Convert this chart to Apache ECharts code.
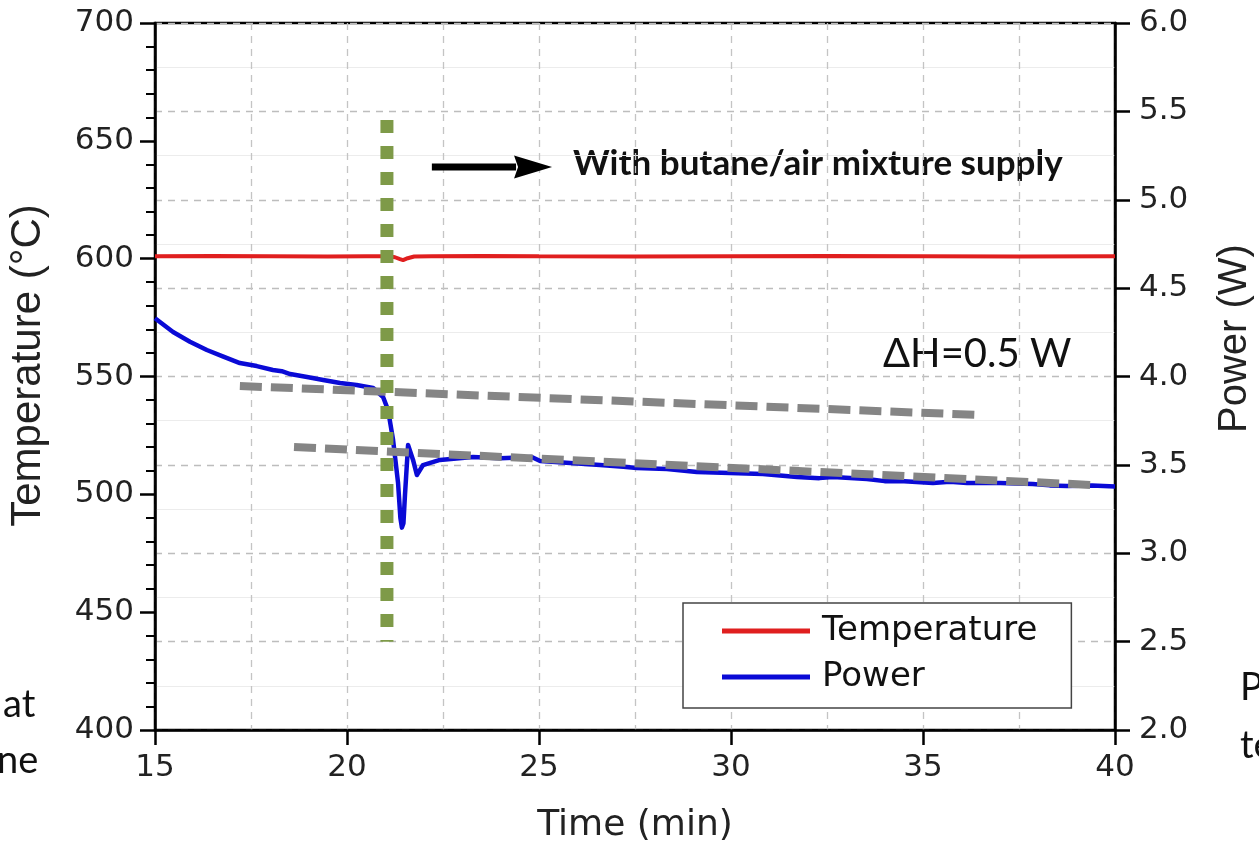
<!DOCTYPE html>
<html>
<head>
<meta charset="utf-8">
<script src="https://cdn.jsdelivr.net/npm/echarts@6/dist/echarts.min.js"></script>
<style>
html,body{margin:0;padding:0;background:#fff;}
#chart{width:1259px;height:857px;}
</style>
</head>
<body>
<div id="chart"></div>
<script>
// ---- data ----
const xTickValues = [15, 20, 25, 30, 35, 40];
const leftTickValues = [400, 450, 500, 550, 600, 650, 700];
const rightTickValues = [2.0, 2.5, 3.0, 3.5, 4.0, 4.5, 5.0, 5.5, 6.0];

const tempTime = [15, 16.5, 18, 19.5, 20.5, 21.1, 21.25, 21.38, 21.46, 21.58, 21.75, 22.2, 23.5, 25, 27.5, 30, 32.5, 35, 37.5, 40];
const tempVals = [601, 601.1, 601, 600.9, 601, 601, 600.6, 599.8, 599.4, 600.2, 600.9, 601, 601.1, 601, 600.9, 601, 601.1, 601, 600.9, 601];

const powerTime = [15.0, 15.47, 15.91, 16.35, 16.78, 17.21, 17.65, 18.07, 18.3, 18.52, 18.96, 19.38, 19.82, 20.25, 20.68, 20.94, 21.07, 21.2, 21.33, 21.39, 21.43, 21.47, 21.51, 21.59, 21.72, 21.82, 21.98, 22.42, 23.28, 24.0, 24.81, 25.03, 25.81, 26.59, 27.2, 27.55, 28.33, 29.11, 29.97, 30.83, 31.72, 32.3, 32.66, 33.54, 34.0, 34.4, 35.26, 35.7, 36.15, 37.01, 37.86, 38.3, 38.75, 39.4, 40.0];
const powerVals = [4.33, 4.252, 4.197, 4.15, 4.112, 4.076, 4.059, 4.037, 4.03, 4.014, 3.997, 3.98, 3.963, 3.952, 3.935, 3.884, 3.81, 3.641, 3.397, 3.2, 3.145, 3.17, 3.33, 3.612, 3.528, 3.443, 3.499, 3.528, 3.545, 3.538, 3.545, 3.522, 3.511, 3.499, 3.49, 3.482, 3.477, 3.46, 3.454, 3.448, 3.431, 3.425, 3.431, 3.42, 3.408, 3.409, 3.397, 3.405, 3.397, 3.397, 3.392, 3.384, 3.38, 3.384, 3.378];

// annotation geometry in data units
const fuelOnTime = [21.04, 21.04];
const fuelOnTemp = [658.8, 437.4];
const trendUpperTime = [17.21, 36.48];
const trendUpperPower = [3.946, 3.782];
const trendLowerTime = [18.62, 39.43];
const trendLowerPower = [3.601, 3.386];
const arrowTime = [22.21, 25.34];
const arrowPower = [5.185, 5.185];

const zip = (a, b) => a.map((v, i) => [v, b[i]]);

const chart = echarts.init(document.getElementById('chart'), null, {renderer: 'canvas'});

const axisFont = 'DejaVu Sans';
const docFont = 'Lato';

const option = {
  backgroundColor: '#ffffff',
  animation: false,
  grid: {left: 155, right: 144, top: 23, bottom: 127, show: true, borderColor: '#000', borderWidth: 2.5, backgroundColor: 'transparent', containLabel: false, outerBoundsMode: 'none'},
  legend: {
    show: true,
    orient: 'vertical',
    left: 683, top: 603,
    padding: [8, 34, 11, 39],
    itemGap: 6,
    itemWidth: 88, itemHeight: 5,
    backgroundColor: '#fff',
    borderColor: '#444', borderWidth: 1.5, borderRadius: 0,
    data: [{name: 'Temperature', icon: 'rect'}, {name: 'Power', icon: 'rect'}],
    textStyle: {fontFamily: axisFont, fontSize: 34, color: '#111', lineHeight: 40, padding: [0, 0, 0, 7]}
  },
  xAxis: {
    type: 'value', min: xTickValues[0], max: xTickValues[xTickValues.length - 1], interval: 5,
    name: 'Time (min)', nameLocation: 'middle', nameGap: 78,
    nameTextStyle: {fontFamily: axisFont, fontSize: 36, color: '#222'},
    axisLine: {show: true, onZero: false, lineStyle: {color: '#000', width: 2.5}},
    axisTick: {show: true, inside: false, length: 15, lineStyle: {color: '#000', width: 2.5}},
    minorTick: {show: false, splitNumber: 2},
    axisLabel: {fontFamily: axisFont, fontSize: 31, color: '#222', margin: 22},
    splitLine: {show: true, lineStyle: {color: '#c4c4c4', width: 1.3, type: [7, 6]}},
    minorSplitLine: {show: true, lineStyle: {color: '#c4c4c4', width: 1.3, type: [7, 6]}}
  },
  yAxis: [
    {
      type: 'value', min: leftTickValues[0], max: leftTickValues[leftTickValues.length - 1], interval: 50,
      position: 'left',
      name: 'Temperature (°C)', nameLocation: 'middle', nameGap: 106,
      nameTextStyle: {fontFamily: 'Liberation Sans', fontSize: 42, color: '#222', padding: [0, 0, 0, 22]},
      axisLine: {show: true, onZero: false, lineStyle: {color: '#000', width: 2.5}},
      axisTick: {show: true, inside: false, length: 15, lineStyle: {color: '#000', width: 2.5}},
      minorTick: {show: true, splitNumber: 5, length: 9, lineStyle: {color: '#000', width: 2}},
      axisLabel: {fontFamily: axisFont, fontSize: 31, color: '#222', margin: 21},
      splitLine: {show: false}
    },
    {
      type: 'value', min: rightTickValues[0], max: rightTickValues[rightTickValues.length - 1], interval: 0.5,
      position: 'right',
      name: 'Power (W)', nameLocation: 'middle', nameGap: 100,
      nameTextStyle: {fontFamily: 'Liberation Sans', fontSize: 40, color: '#222', padding: [0, 0, 0, 76]},
      axisLine: {show: true, onZero: false, lineStyle: {color: '#000', width: 2.5}},
      axisTick: {show: true, inside: false, length: 15, lineStyle: {color: '#000', width: 2.5}},
      minorTick: {show: false, splitNumber: 2},
      axisLabel: {fontFamily: axisFont, fontSize: 31, color: '#222', margin: 24, formatter: v => v.toFixed(1)},
      splitLine: {show: true, lineStyle: {color: '#bdbdbd', width: 1.3, type: [7, 6]}},
      minorSplitLine: {show: true, lineStyle: {color: '#ececec', width: 1.2}}
    }
  ],
  series: [
    {
      name: 'Temperature', type: 'line', yAxisIndex: 0, showSymbol: false, symbol: 'none',
      data: zip(tempTime, tempVals), z: 4,
      itemStyle: {color: '#e01f1f'},
      lineStyle: {color: '#e01f1f', width: 4}
    },
    {
      name: 'Power', type: 'line', yAxisIndex: 1, showSymbol: false, symbol: 'none',
      data: zip(powerTime, powerVals), z: 3,
      itemStyle: {color: '#0a0ad6'},
      lineStyle: {color: '#0a0ad6', width: 4.5, join: 'round'}
    },
    {
      name: 'fuelOn', type: 'line', yAxisIndex: 0, showSymbol: false, symbol: 'none', z: 5,
      data: zip(fuelOnTime, fuelOnTemp),
      lineStyle: {color: '#7e9a48', width: 13, type: [13, 13], cap: 'butt'}
    },
    {
      name: 'trendUpper', type: 'line', yAxisIndex: 1, showSymbol: false, symbol: 'none', z: 4,
      data: zip(trendUpperTime, trendUpperPower),
      lineStyle: {color: '#858585', width: 8, type: [22, 9], cap: 'butt'}
    },
    {
      name: 'trendLower', type: 'line', yAxisIndex: 1, showSymbol: false, symbol: 'none', z: 4,
      data: zip(trendLowerTime, trendLowerPower),
      lineStyle: {color: '#858585', width: 8, type: [22, 9], cap: 'butt'}
    },
    {
      name: 'arrow', type: 'custom', yAxisIndex: 1, z: 6,
      data: [[arrowTime[0], arrowTime[1], arrowPower[0]]],
      renderItem: function (params, api) {
        const p0 = api.coord([api.value(0), api.value(2)]);
        const p1 = api.coord([api.value(1), api.value(2)]);
        const head = 38, half = 11.5;
        return {
          type: 'group',
          children: [
            {type: 'line', shape: {x1: p0[0], y1: p0[1], x2: p1[0] - head + 2, y2: p1[1]}, style: {stroke: '#000', lineWidth: 7}},
            {type: 'polygon', shape: {points: [[p1[0], p1[1]], [p1[0] - head, p1[1] - half], [p1[0] - head + 4, p1[1]], [p1[0] - head, p1[1] + half]]}, style: {fill: '#000'}}
          ]
        };
      }
    }
  ],
  graphic: [
    {type: 'text', left: 573, top: 146, style: {text: 'With butane/air mixture supply', font: 'bold 35px ' + docFont, fill: '#111'}},
    {type: 'text', left: 883, top: 334, style: {text: 'ΔH=0.5 W', font: '40px ' + docFont, fill: '#111'}},
    {type: 'text', left: 3, top: 686, style: {text: 'at', font: '38px ' + docFont, fill: '#111'}},
    {type: 'text', left: -3, top: 742, style: {text: 'ne', font: '38px ' + docFont, fill: '#111'}},
    {type: 'text', left: 1240, top: 669, style: {text: 'P', font: '38px ' + docFont, fill: '#111'}},
    {type: 'text', left: 1240, top: 727, style: {text: 'te', font: '38px ' + docFont, fill: '#111'}}
  ]
};

chart.setOption(option);
</script>
</body>
</html>
